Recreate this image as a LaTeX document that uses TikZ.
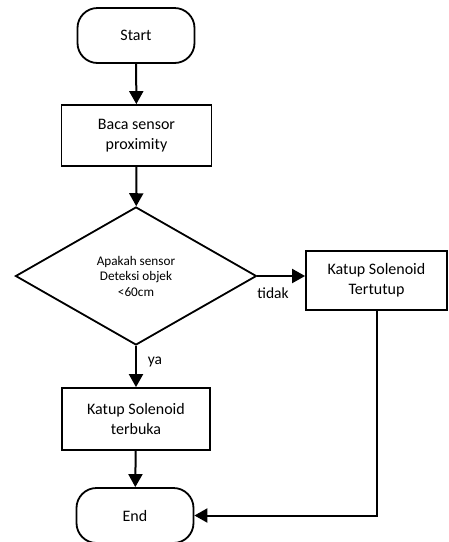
\documentclass[tikz,border=0pt]{standalone}
\usepackage{fontspec}
\setmainfont{Carlito}
\usetikzlibrary{arrows.meta,positioning,shapes.geometric}

\begin{document}
\begin{tikzpicture}[x=1pt,y=-1pt,
    b/.style={draw,line width=1.8pt,minimum width=150pt,minimum height=61pt,
      align=center,font=\fontsize{16}{20}\selectfont,inner sep=0pt},
    term/.style={b,rounded corners=20pt,minimum width=117pt,minimum height=55pt},
    dec/.style={draw,diamond,line width=1.8pt,minimum width=241pt,minimum height=138pt,
      inner sep=0pt,align=center,font=\fontsize{13.2}{15.5}\selectfont},
    lbl/.style={font=\fontsize{15.5}{17}\selectfont},
    a/.style={-{Triangle[length=13pt,width=14pt]},line width=2pt}]
    \useasboundingbox (0,0) rectangle (449,542);
    \node[term] (start) at (136,35.5) {Start};
    \node[b] (baca) at (136.5,135.5) {Baca sensor\\proximity};
    \node[dec] (cek) at (136,276) {Apakah sensor\\Deteksi objek\\<60cm};
    \node[b,minimum width=141pt,minimum height=59pt] (tutup) at (376.5,280.5) {Katup Solenoid\\Tertutup};
    \node[b,minimum width=148pt,minimum height=62pt] (buka) at (136,419) {Katup Solenoid\\terbuka};
    \node[term] (end) at (135,515.5) {End};
    \node[lbl] (tidak) at (273,293) {tidak};
    \node[lbl] (ya) at (155,362) {ya};
    \draw[a] (start)--(baca); \draw[a] (baca)--(cek);
    \draw[a] (cek.east)--(cek.east-|tutup.west);
    \draw[a] (cek)--(buka); \draw[a] (buka)--(end);
    \draw[a] (tutup.south)|-(end.east);
  \end{tikzpicture}
\end{document}
